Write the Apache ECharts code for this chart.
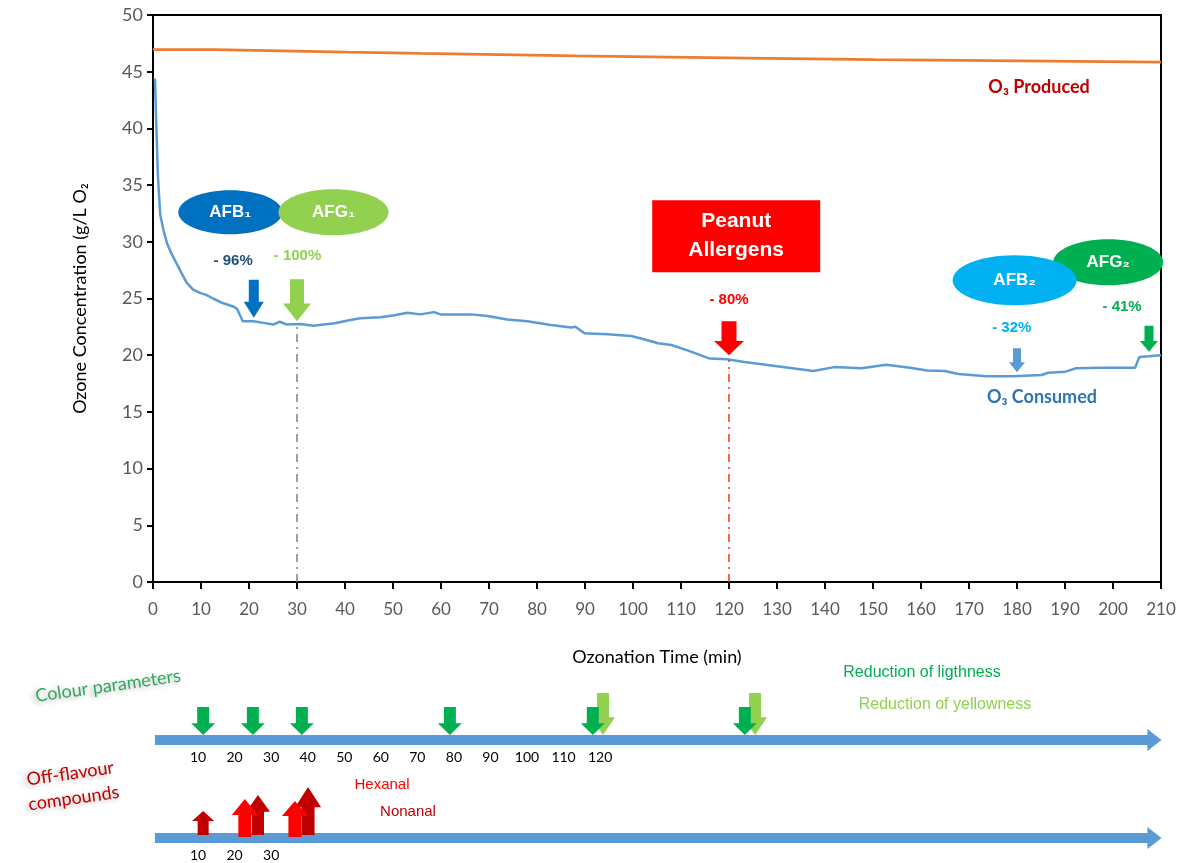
<!DOCTYPE html>
<html><head><meta charset="utf-8">
<script src="https://cdn.jsdelivr.net/npm/echarts@6/dist/echarts.min.js"></script>
<style>html,body{margin:0;padding:0;background:#fff}#c{width:1182px;height:863px}</style>
</head><body><div id="c"></div>
<script>
// ---- data ----
const producedT = [0, 12.9, 26.7, 40.5, 55.7, 72.3, 88.2, 107.5, 128.2, 150.3, 180.6, 210];
const producedV = [46.95, 46.84, 46.73, 46.62, 46.51, 46.40, 46.29, 46.18, 46.07, 45.96, 45.85, 45.85];
const consumedT = [0.4,1.0,1.5,2.2,2.9,3.8,4.9,6.0,7.0,8.3,9.8,11.2,12.5,14.5,16.7,17.5,18.7,20.9,23,25,26.4,27.9,30.7,33.4,35.5,37.6,41.1,43.2,47.4,50,53,55.7,58.5,59.9,66.2,69.7,73.8,78,82.9,87.1,88,89.9,94.7,99.6,102.3,105.2,108,111.5,116,119.6,123.2,130.4,137.6,141.9,147.7,152.7,157.7,161.3,164.9,167.8,173.6,179.3,185.1,186.5,190.1,192.3,197.3,204.6,205.5,207.4,210];
const consumedV = [44.4,36,32.4,31.0,29.9,29.0,28.1,27.2,26.4,25.8,25.5,25.3,25.0,24.6,24.3,24.1,23.0,23.0,22.85,22.7,22.95,22.7,22.75,22.6,22.7,22.8,23.1,23.25,23.35,23.5,23.75,23.6,23.8,23.6,23.6,23.45,23.15,23.0,22.66,22.45,22.5,21.93,21.84,21.7,21.4,21.05,20.9,20.4,19.7,19.65,19.4,19.0,18.6,18.95,18.85,19.15,18.9,18.65,18.6,18.35,18.15,18.15,18.25,18.45,18.55,18.85,18.9,18.9,19.85,19.9,20.0];
const yTicks = [0,5,10,15,20,25,30,35,40,45,50];
// reductions (%)
const afLabels = ['AFB₁','AFG₁','Peanut Allergens','AFB₂','AFG₂'];
const afReduction = [-96,-100,-80,-32,-41];
const afTime = [21,30,120,180,207.5];
// colour parameters timeline (min)
const lightnessT = [11.4, 25.0, 38.4, 78.9, 118.0, 159.6];
const yellownessT = [120.8, 162.4];
const colourTickLabels = [10,20,30,40,50,60,70,80,90,100,110,120];
// off-flavour timeline (min)
const hexanalT = [22.8, 36.5];
const nonanalT = [11.4, 26.4, 40.1];
const flavourTickLabels = [10,20,30];
// arrow sizes (style)
const lightSize = [24,28], yellowSize = [24,42];
const hexSizes = [[26,38],[26,36]];
const nonSizes = [[22,24],[24,40],[26,48]];

const downPath = 'path://M25,0 L75,0 L75,58 L100,58 L50,100 L0,58 L25,58 Z';
const upPath = 'path://M50,0 L100,42 L75,42 L75,100 L25,100 L25,42 L0,42 Z';

const chart = echarts.init(document.getElementById('c'));
const zip = (a,b)=>a.map((x,i)=>[x,b[i]]);

const option = {
  animation:false,
  grid:[
    {left:153, right:21, top:15, bottom:281, show:true, borderColor:'#000', borderWidth:2},
    {left:161.5, right:19, top:690, height:50},
    {left:161.5, right:19, top:788, height:50}
  ],
  xAxis:[
    {gridIndex:0, type:'value', min:0, max:210, interval:10,
     name:'Ozonation Time (min)', nameLocation:'middle', nameGap:66,
     nameTextStyle:{fontFamily:'Lato', fontSize:18, color:'#000'},
     axisLine:{lineStyle:{color:'#000', width:2}},
     axisTick:{show:true, length:7, lineStyle:{color:'#000', width:2}},
     axisLabel:{fontFamily:'Lato', fontSize:17, color:'#595959', margin:19},
     splitLine:{show:false}},
    {gridIndex:1, type:'value', min:0, max:274, interval:10,
     axisLine:{show:false}, axisTick:{show:false}, splitLine:{show:false},
     axisLabel:{fontFamily:'Lato', fontSize:14, color:'#000', margin:10,
       formatter:v=>colourTickLabels.includes(v)?String(v):''}},
    {gridIndex:2, type:'value', min:0, max:274, interval:10,
     axisLine:{show:false}, axisTick:{show:false}, splitLine:{show:false},
     axisLabel:{fontFamily:'Lato', fontSize:14, color:'#000', margin:10,
       formatter:v=>flavourTickLabels.includes(v)?String(v):''}}
  ],
  yAxis:[
    {gridIndex:0, type:'value', min:0, max:50, interval:5,
     name:'Ozone Concentration (g/L O₂', nameLocation:'middle', nameGap:64,
     nameTextStyle:{fontFamily:'Lato', fontSize:18, color:'#000'},
     axisLine:{show:true, lineStyle:{color:'#000', width:2}},
     axisTick:{show:true, length:6, lineStyle:{color:'#000', width:2}},
     axisLabel:{fontFamily:'Lato', fontSize:18, color:'#595959', margin:10,
       formatter:v=>yTicks.includes(v)?String(v):''},
     splitLine:{show:false}},
    {gridIndex:1, type:'value', min:0, max:1, show:false},
    {gridIndex:2, type:'value', min:0, max:1, show:false}
  ],
  series:[
    {name:'O3 Produced', type:'line', xAxisIndex:0, yAxisIndex:0, step:'end', showSymbol:false,
     data:zip(producedT, producedV), lineStyle:{color:'#ED7D31', width:2.8}},
    {name:'O3 Consumed', type:'line', xAxisIndex:0, yAxisIndex:0, showSymbol:false,
     data:zip(consumedT, consumedV), lineStyle:{color:'#5B9BD5', width:2.5},
     markLine:{silent:true, symbol:'none', label:{show:false},
       data:[
         [{coord:[afTime[1],0], lineStyle:{color:'#7F7F7F', width:1.5, type:[8,5,2,5]}},{coord:[afTime[1],22.6]}],
         [{coord:[afTime[2],0], lineStyle:{color:'#FF3300', width:1.5, type:[8,5,2,5]}},{coord:[afTime[2],19.6]}]
       ]}},
    {type:'scatter', xAxisIndex:1, yAxisIndex:1, symbol:downPath, symbolSize:yellowSize,
     symbolOffset:[0,-yellowSize[1]/2-5], itemStyle:{color:'#92D050', opacity:1},
     data:yellownessT.map(t=>[t,0]), z:3},
    {type:'scatter', xAxisIndex:1, yAxisIndex:1, symbol:downPath, symbolSize:lightSize,
     symbolOffset:[0,-lightSize[1]/2-5], itemStyle:{color:'#00B050', opacity:1},
     data:lightnessT.map(t=>[t,0]), z:4},
    {type:'scatter', xAxisIndex:2, yAxisIndex:2, symbol:upPath, itemStyle:{color:'#C00000', opacity:1},
     data:nonanalT.map((t,i)=>({value:[t,0], symbolSize:nonSizes[i], symbolOffset:[0,-nonSizes[i][1]/2-3]})), z:3},
    {type:'scatter', xAxisIndex:2, yAxisIndex:2, symbol:upPath, itemStyle:{color:'#FF0000', opacity:1},
     data:hexanalT.map((t,i)=>({value:[t,0], symbolSize:hexSizes[i], symbolOffset:[0,-hexSizes[i][1]/2-1]})), z:4}
  ]
};
chart.setOption(option);

const P = (t,v)=>chart.convertToPixel({gridIndex:0},[t,v]);
const P1 = (t)=>chart.convertToPixel({gridIndex:1},[t,0]);
const P2 = (t)=>chart.convertToPixel({gridIndex:2},[t,0]);

function downArrow(t, v, w, h, color){
  const [cx, tip] = P(t, v); const sw = w*0.5, hh = h*0.42;
  return {type:'polygon', z:100, shape:{points:[[cx-sw/2,tip-h],[cx+sw/2,tip-h],[cx+sw/2,tip-hh],[cx+w/2,tip-hh],[cx,tip],[cx-w/2,tip-hh],[cx-sw/2,tip-hh]]}, style:{fill:color}};
}
function ell(t, v, rx, ry, color, label){
  const [cx, cy] = P(t, v);
  return [{type:'ellipse', z:100, shape:{cx, cy, rx, ry}, style:{fill:color}},
          {type:'text', z:101, x:cx, y:cy, style:{text:label, fill:'#fff', font:'bold 17px "Liberation Sans", Arial', textAlign:'center', textVerticalAlign:'middle'}}];
}
function txt(t, v, s, color, font){
  const [x, y] = P(t, v);
  return {type:'text', z:101, x, y, style:{text:s, fill:color, font, textAlign:'center', textVerticalAlign:'middle'}};
}
function pct(v){ return '- ' + Math.abs(v) + '%'; }
function timeline(Pf, barY){
  const x0 = Pf(-1.8)[0], x1 = Pf(270)[0], x2 = Pf(273.6)[0];
  return [{type:'rect', z:1, shape:{x:x0, y:barY-5, width:x1-x0, height:10}, style:{fill:'#5B9BD5'}},
          {type:'polygon', z:1, shape:{points:[[x1-1,barY-11],[x2,barY],[x1-1,barY+11]]}, style:{fill:'#5B9BD5'}}];
}
const pf = 'bold 15px "Liberation Sans", Arial';
const g = [];
g.push(...ell(16.1, 32.6, 52, 22, '#0070C0', afLabels[0]));
g.push(...ell(37.6, 32.6, 55, 23, '#92D050', afLabels[1]));
g.push(...ell(199, 28.2, 55, 23, '#00B050', afLabels[4]));
g.push(...ell(179.5, 26.6, 62, 25, '#00B0F0', afLabels[3]));
// peanut allergens box
(function(){
  const [cx, cy] = P(121.5, 30.5);
  g.push({type:'rect', z:100, shape:{x:cx-84, y:cy-36, width:168, height:72}, style:{fill:'#FF0000'}});
  g.push({type:'text', z:101, x:cx, y:cy, style:{text:'Peanut\nAllergens', fill:'#fff', font:'bold 21px "Liberation Sans", Arial', lineHeight:29, textAlign:'center', textVerticalAlign:'middle'}});
})();
g.push(txt(16.7, 28.3, pct(afReduction[0]), '#1F4E79', pf));
g.push(txt(30.1, 28.8, pct(afReduction[1]), '#92D050', pf));
g.push(txt(afTime[2], 24.9, pct(afReduction[2]), '#FF0000', pf));
g.push(txt(178.9, 22.4, pct(afReduction[3]), '#00B0F0', pf));
g.push(txt(201.9, 24.25, pct(afReduction[4]), '#00B050', pf));
g.push(downArrow(afTime[0], 23.3, 20, 38, '#0070C0'));
g.push(downArrow(afTime[1], 23.0, 28, 42, '#92D050'));
g.push(downArrow(afTime[2], 20.0, 30, 34, '#FF0000'));
g.push(downArrow(afTime[3], 18.5, 16, 24, '#5B9BD5'));
g.push(downArrow(afTime[4], 20.3, 18, 26, '#00B050'));
g.push(txt(184.6, 43.65, 'O₃ Produced', '#C00000', 'bold 18px Lato'));
g.push(txt(185.2, 16.3, 'O₃ Consumed', '#2E75B6', 'bold 18px Lato'));
// timelines
const y1 = P1(0)[1], y2 = P2(0)[1];
g.push(...timeline(P1, y1));
g.push(...timeline(P2, y2));
const shadow = {textShadowColor:'rgba(0,0,0,0.3)', textShadowBlur:5, textShadowOffsetX:-3, textShadowOffsetY:2};
g.push({type:'text', x:108, y:686, rotation:0.14, style:Object.assign({text:'Colour parameters', fill:'#2EAA5C', font:'18px Lato', textAlign:'center', textVerticalAlign:'middle'}, shadow)});
g.push({type:'text', x:72, y:786, rotation:0.14, style:Object.assign({text:'Off-flavour\ncompounds', fill:'#C00000', font:'18px Lato', lineHeight:25, textAlign:'center', textVerticalAlign:'middle'}, shadow)});
g.push({type:'text', x:922, y:673, style:{text:'Reduction of ligthness', fill:'#00B050', font:'16px "Liberation Sans", Arial', textAlign:'center', textVerticalAlign:'middle'}});
g.push({type:'text', x:945, y:705, style:{text:'Reduction of yellowness', fill:'#92D050', font:'16px "Liberation Sans", Arial', textAlign:'center', textVerticalAlign:'middle'}});
g.push({type:'text', x:382, y:785, style:{text:'Hexanal', fill:'#FF0000', font:'15px "Liberation Sans", Arial', textAlign:'center', textVerticalAlign:'middle'}});
g.push({type:'text', x:408, y:812, style:{text:'Nonanal', fill:'#C00000', font:'15px "Liberation Sans", Arial', textAlign:'center', textVerticalAlign:'middle'}});
chart.setOption({graphic:{elements:g}});
</script></body></html>
